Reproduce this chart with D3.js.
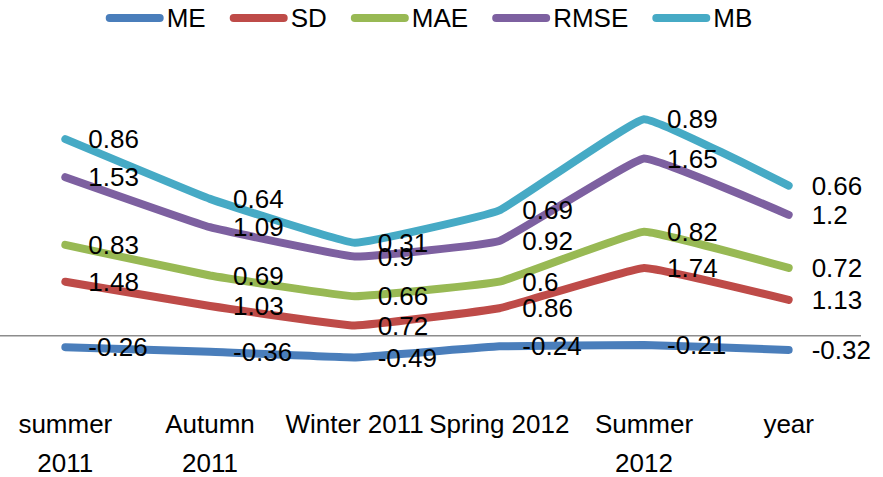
<!DOCTYPE html>
<html>
<head>
<meta charset="utf-8">
<script src="https://cdn.jsdelivr.net/npm/d3@7"></script>
<style>
  html, body { margin: 0; padding: 0; background: #fff; }
  svg { display: block; font-family: "Liberation Sans", Arial, sans-serif; }
</style>
</head>
<body>
<svg id="chart" width="883" height="477"></svg>
<script>
const categories = ["summer 2011", "Autumn 2011", "Winter 2011", "Spring 2012", "Summer 2012", "year"];
const seriesNames = ["ME", "SD", "MAE", "RMSE", "MB"];
const ME   = [-0.26, -0.36, -0.49, -0.24, -0.21, -0.32];
const SD   = [1.48, 1.03, 0.72, 0.86, 1.74, 1.13];
const MAE  = [0.83, 0.69, 0.66, 0.6, 0.82, 0.72];
const RMSE = [1.53, 1.09, 0.9, 0.92, 1.65, 1.2];
const MB   = [0.86, 0.64, 0.31, 0.69, 0.89, 0.66];
const colors = ["#4A7EBB", "#BE4B48", "#98B954", "#7D60A0", "#46AAC5"];

const seriesValues = [ME, SD, MAE, RMSE, MB];

const svg = d3.select("#chart");
const FS = 26;

// plot area
const plot = { left: -7, right: 861, top: 70, bottom: 380 };
const x = d3.scalePoint().domain(categories).range([plot.left, plot.right]).padding(0.5);
const y = d3.scaleLinear().domain([-1, 6]).range([plot.bottom, plot.top]);

// stacked totals
const stacked = [];
let running = categories.map(() => 0);
seriesValues.forEach((vals, i) => {
  running = running.map((r, j) => r + vals[j]);
  stacked.push(categories.map((c, j) => ({ cat: c, value: vals[j], total: running[j] })));
});

// zero (category) axis line
const xAxis = d3.axisBottom(x).tickSize(0).tickFormat("").tickSizeOuter(0);
const axisG = svg.append("g").attr("transform", `translate(0,${y(0)})`).call(xAxis);
axisG.select(".domain").attr("stroke", "#8C8C8C").attr("stroke-width", 1.5)
  .attr("d", `M${Math.max(0, plot.left)},0H${plot.right}`);

// category labels at the bottom
const labelG = svg.append("g");
categories.forEach(c => {
  const maxW = x.step() + 2;
  const t = labelG.append("text")
    .attr("x", x(c)).attr("y", 433)
    .attr("text-anchor", "middle").attr("font-size", FS).attr("fill", "#000");
  const words = c.split(" ");
  const probe = labelG.append("text").attr("font-size", FS).text(c);
  const wFull = probe.node().getComputedTextLength();
  probe.remove();
  const lines = (wFull <= maxW || words.length === 1) ? [c] : words;
  lines.forEach((ln, k) => {
    t.append("tspan").attr("x", x(c)).attr("dy", k === 0 ? 0 : 38.5).text(ln);
  });
});

// lines
const line = d3.line()
  .x(d => x(d.cat))
  .y(d => y(d.total))
  .curve(d3.curveCardinal.tension(0.75));

stacked.forEach((s, i) => {
  svg.append("path")
    .datum(s)
    .attr("d", line)
    .attr("fill", "none")
    .attr("stroke", colors[i])
    .attr("stroke-width", 8)
    .attr("stroke-linecap", "round")
    .attr("stroke-linejoin", "round");
});

// data labels
stacked.forEach((s, i) => {
  svg.append("g").selectAll("text")
    .data(s).join("text")
    .attr("x", d => x(d.cat) + 23)
    .attr("y", d => y(d.total))
    .attr("dy", "0.35em")
    .attr("font-size", FS)
    .attr("fill", "#000")
    .text(d => String(d.value));
});

// legend
const legend = svg.append("g");
const swLen = 58, gapText = 3, gapItem = 24;
let cx = 0;
seriesNames.forEach((n, i) => {
  const g = legend.append("g");
  g.append("line")
    .attr("x1", cx + 4).attr("x2", cx + swLen - 4)
    .attr("y1", 18).attr("y2", 18)
    .attr("stroke", colors[i]).attr("stroke-width", 8).attr("stroke-linecap", "round");
  const t = g.append("text")
    .attr("x", cx + swLen + gapText).attr("y", 18).attr("dy", "0.35em")
    .attr("font-size", FS).attr("fill", "#000").text(n);
  cx += swLen + gapText + t.node().getComputedTextLength() + gapItem;
});
const totalW = cx - gapItem;
legend.attr("transform", `translate(${429 - totalW / 2},0)`);
</script>
</body>
</html>
